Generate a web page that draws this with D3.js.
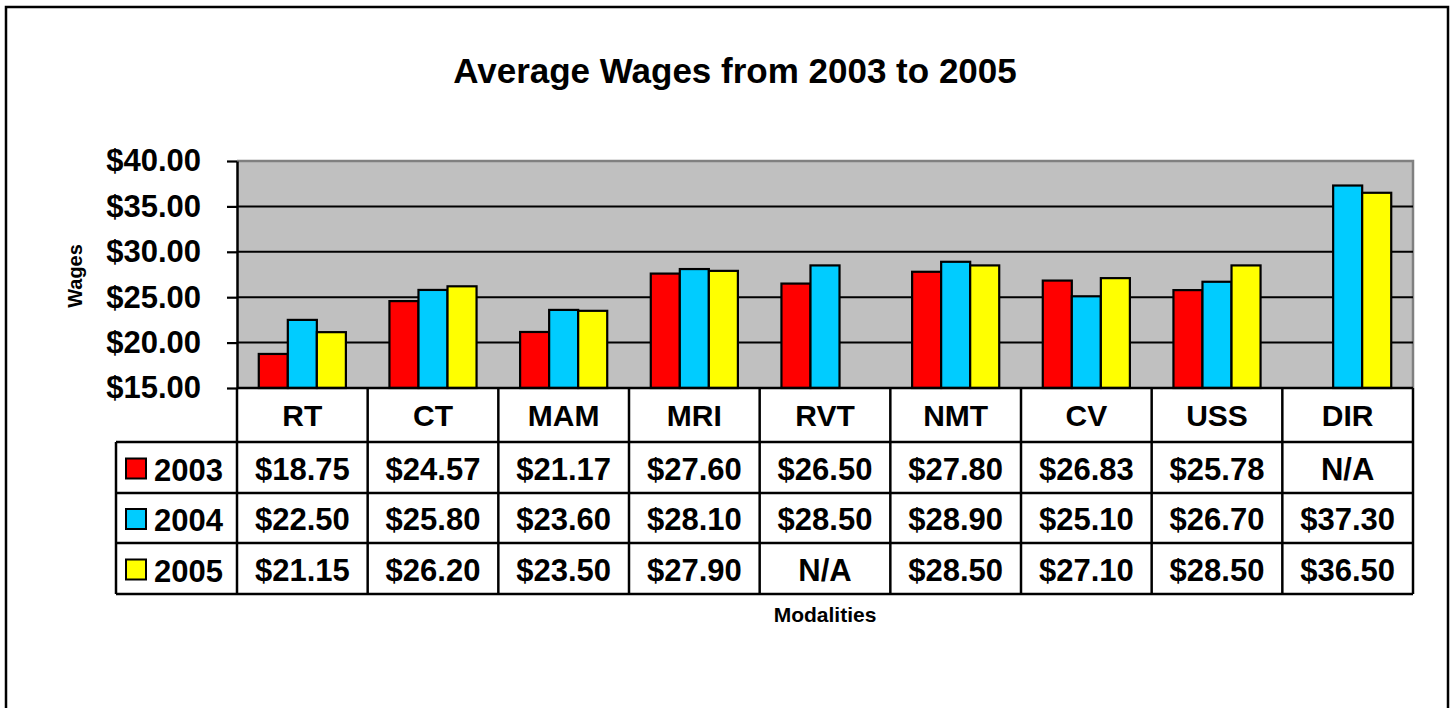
<!DOCTYPE html>
<html>
<head>
<meta charset="utf-8">
<script src="https://cdn.jsdelivr.net/npm/d3@7"></script>
<style>
  body { margin: 0; background: #fff; }
  svg { display: block; font-family: Arial, "Liberation Sans", sans-serif; font-weight: bold; }
</style>
</head>
<body>
<svg id="chart" width="1452" height="708"></svg>
<script>
const modalities = ['RT', 'CT', 'MAM', 'MRI', 'RVT', 'NMT', 'CV', 'USS', 'DIR'];
const years = ['2003', '2004', '2005'];
const wages2003 = [18.75, 24.57, 21.17, 27.60, 26.50, 27.80, 26.83, 25.78, null];
const wages2004 = [22.50, 25.80, 23.60, 28.10, 28.50, 28.90, 25.10, 26.70, 37.30];
const wages2005 = [21.15, 26.20, 23.50, 27.90, null, 28.50, 27.10, 28.50, 36.50];
const yTicks = [15, 20, 25, 30, 35, 40];
const colors = ['#ff0000', '#00ccff', '#ffff00'];

const series = [wages2003, wages2004, wages2005];

const plot = { left: 237, right: 1413, top: 161, bottom: 388 };
const rowTop = [388, 442, 493, 543, 594];
const legendLeft = 116;

const svg = d3.select('#chart');

// outer frame (bottom edge runs off the picture)
svg.append('rect')
  .attr('x', 6).attr('y', 7)
  .attr('width', 1442).attr('height', 740)
  .attr('fill', '#fff').attr('stroke', '#000').attr('stroke-width', 2.5);

const x = d3.scaleBand()
  .domain(modalities)
  .range([plot.left, plot.right])
  .paddingInner(1 / 3)
  .paddingOuter(1 / 6);

const x1 = d3.scaleBand()
  .domain(years)
  .range([0, x.bandwidth()]);

const y = d3.scaleLinear()
  .domain([15, 40])
  .range([plot.bottom, plot.top]);

// plot background
svg.append('rect')
  .attr('x', plot.left).attr('y', plot.top)
  .attr('width', plot.right - plot.left).attr('height', plot.bottom - plot.top)
  .attr('fill', '#c0c0c0');
svg.append('path')
  .attr('d', `M${plot.left},${plot.top}H${plot.right}V${plot.bottom}`)
  .attr('fill', 'none').attr('stroke', '#808080').attr('stroke-width', 2.5);

// gridlines
svg.append('g')
  .selectAll('line')
  .data(yTicks.slice(1, -1))
  .join('line')
  .attr('x1', plot.left).attr('x2', plot.right)
  .attr('y1', d => y(d)).attr('y2', d => y(d))
  .attr('stroke', '#000').attr('stroke-width', 2);

// bars
const rows = [];
modalities.forEach((m, i) => {
  series.forEach((s, j) => {
    if (s[i] != null) rows.push({ m, year: years[j], v: s[i], c: colors[j] });
  });
});

svg.append('g')
  .selectAll('rect')
  .data(rows)
  .join('rect')
  .attr('x', d => x(d.m) + x1(d.year))
  .attr('y', d => y(d.v))
  .attr('width', x1.bandwidth())
  .attr('height', d => y(15) - y(d.v))
  .attr('fill', d => d.c)
  .attr('stroke', '#000')
  .attr('stroke-width', 2.2);

// y axis
const yAxis = d3.axisLeft(y)
  .tickValues(yTicks)
  .tickSize(10)
  .tickSizeOuter(0)
  .tickPadding(26)
  .tickFormat(d3.format('$.2f'));

const gy = svg.append('g')
  .attr('transform', `translate(${plot.left},0)`)
  .call(yAxis);
gy.select('.domain').attr('stroke', '#000').attr('stroke-width', 2.5);
gy.selectAll('.tick line').attr('stroke', '#000').attr('stroke-width', 2.2);
gy.selectAll('.tick text')
  .attr('fill', '#000')
  .style('font-size', '31px')
  .style('font-weight', 'bold')
  .style('font-family', 'Arial, "Liberation Sans", sans-serif');

// data table
const step = x.step();
const colEdges = d3.range(modalities.length + 1).map(i => plot.left + i * step);
const table = svg.append('g');

// horizontal lines
table.selectAll('line.h')
  .data(rowTop)
  .join('line')
  .attr('class', 'h')
  .attr('x1', (d, i) => i === 0 ? plot.left : legendLeft)
  .attr('x2', plot.right)
  .attr('y1', d => d).attr('y2', d => d)
  .attr('stroke', '#000').attr('stroke-width', 2.5);

// vertical lines
table.selectAll('line.v')
  .data(colEdges)
  .join('line')
  .attr('class', 'v')
  .attr('x1', d => d).attr('x2', d => d)
  .attr('y1', rowTop[0]).attr('y2', rowTop[4])
  .attr('stroke', '#000').attr('stroke-width', 2.5);
table.append('line')
  .attr('x1', legendLeft).attr('x2', legendLeft)
  .attr('y1', rowTop[1]).attr('y2', rowTop[4])
  .attr('stroke', '#000').attr('stroke-width', 2.5);

// category header
table.selectAll('text.cat')
  .data(modalities)
  .join('text')
  .attr('class', 'cat')
  .attr('x', d => x(d) + x.bandwidth() / 2)
  .attr('y', (rowTop[0] + rowTop[1]) / 2 + 11)
  .attr('text-anchor', 'middle')
  .style('font-size', '30px')
  .text(d => d);

// value rows with legend keys
series.forEach((s, j) => {
  const cy = (rowTop[j + 1] + rowTop[j + 2]) / 2;
  table.append('rect')
    .attr('x', 126).attr('y', cy - 9)
    .attr('width', 20).attr('height', 20)
    .attr('fill', colors[j]).attr('stroke', '#000').attr('stroke-width', 2);
  table.append('text')
    .attr('x', 154).attr('y', cy + 13)
    .style('font-size', '31px')
    .text(years[j]);
  table.selectAll(null)
    .data(s)
    .join('text')
    .attr('x', (d, i) => x(modalities[i]) + x.bandwidth() / 2)
    .attr('y', cy + 12)
    .attr('text-anchor', 'middle')
    .style('font-size', '31px')
    .text(d => d == null ? 'N/A' : d3.format('$.2f')(d));
});

// titles
svg.append('text')
  .attr('x', 735).attr('y', 83)
  .attr('text-anchor', 'middle')
  .style('font-size', '35px')
  .text('Average Wages from 2003 to 2005');

svg.append('text')
  .attr('transform', 'translate(82,276) rotate(-90)')
  .attr('text-anchor', 'middle')
  .style('font-size', '20px')
  .text('Wages');

svg.append('text')
  .attr('x', 825).attr('y', 622)
  .attr('text-anchor', 'middle')
  .style('font-size', '21px')
  .text('Modalities');
</script>
</body>
</html>
